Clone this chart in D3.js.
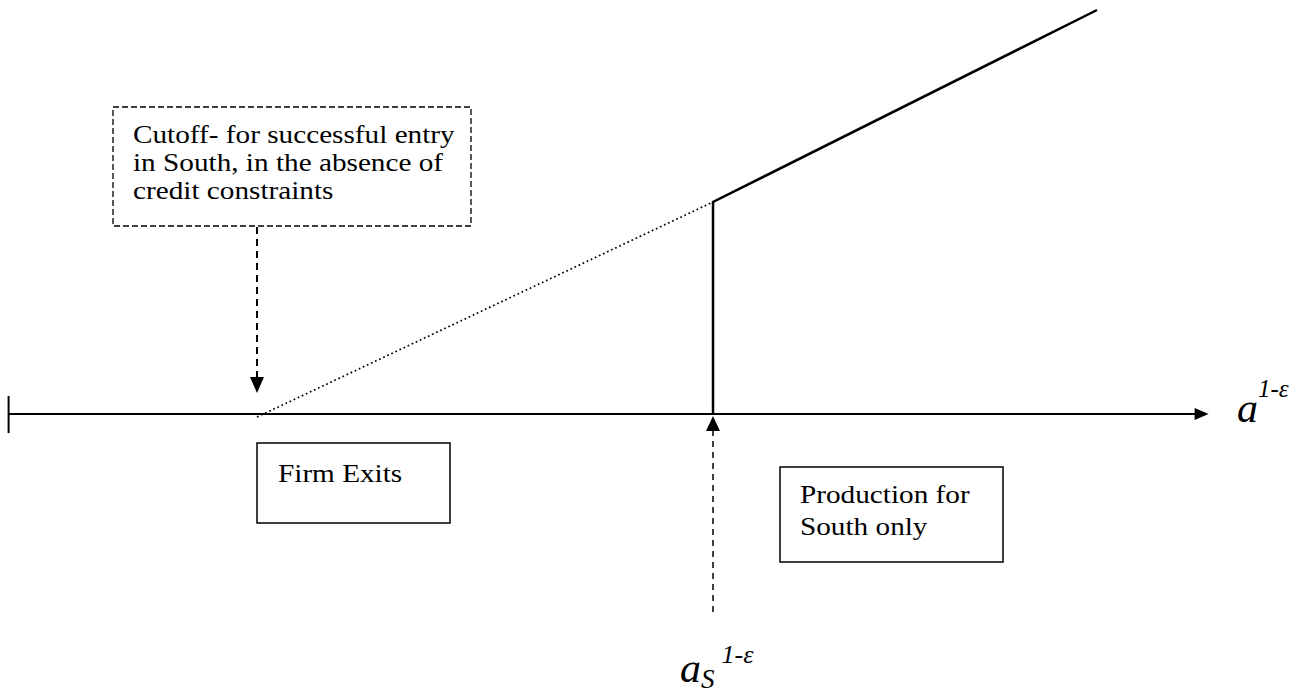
<!DOCTYPE html>
<html>
<head>
  <meta charset="utf-8">
  <title>cutoff</title>
  <style>
    body{margin:0;background:#fff;}
    .lbl{font-family:"Liberation Serif","Times New Roman",serif;font-size:25px;fill:#000;}
    .math{font-family:"Liberation Serif","Times New Roman",serif;font-style:italic;fill:#000;}
  </style>
  <script src="https://d3js.org/d3.v7.min.js"></script>
</head>
<body>
  <script>
    // schematic values, in a^(1-e) units (x) and profit units (y)
    var axisRange = [-0.7, 99.3];
    var cutoffX = 20;          // entry cutoff without credit constraints
    var asX = 58;              // a_S^(1-e)
    var lineX = [20, 58, 58, 90];
    var lineY = [0, 53, 0, 101];
    var boxTexts = [
      ["Cutoff- for successful entry", "in South, in the absence of", "credit constraints"],
      ["Firm Exits"],
      ["Production for", "South only"]
    ];

    var width = 1309, height = 694;
    var stretch = 1.17;   // picture is wider than tall
    var svg = d3.select('body').append('svg')
      .attr('width', width).attr('height', height);

    var x = d3.scaleLinear().domain([0, 100]).range([17, 1217]);
    var y = d3.scaleLinear().domain([0, 100]).range([414, 14]);

    function label(tx, ty, t){
      svg.append('text').attr('class', 'lbl')
        .attr('transform', 'translate(' + tx + ',' + ty + ') scale(' + stretch + ',1)')
        .text(t);
    }

    // axis
    svg.append('line')
      .attr('x1', x(axisRange[0])).attr('x2', x(axisRange[1]) - 8)
      .attr('y1', y(0)).attr('y2', y(0))
      .attr('stroke', '#000').attr('stroke-width', 2);
    svg.append('line')
      .attr('x1', x(axisRange[0])).attr('x2', x(axisRange[0]))
      .attr('y1', y(0) - 18).attr('y2', y(0) + 19)
      .attr('stroke', '#000').attr('stroke-width', 2);
    var ax = x(axisRange[1]);
    svg.append('path')
      .attr('d', 'M' + ax + ',' + y(0) + 'L' + (ax - 14) + ',' + (y(0) - 6) + 'L' + (ax - 14) + ',' + (y(0) + 6) + 'Z')
      .attr('fill', '#000');

    // dotted part (no credit constraints)
    svg.append('line')
      .attr('x1', x(lineX[0])).attr('y1', y(lineY[0]) + 3)
      .attr('x2', x(lineX[1])).attr('y2', y(lineY[1]))
      .attr('stroke', '#000').attr('stroke-width', 1.7)
      .attr('stroke-dasharray', '1.7,2.8');

    // solid profit line
    var line = d3.line().x(d => x(d[0])).y(d => y(d[1]));
    svg.append('path')
      .attr('d', line([[lineX[2], lineY[2]], [lineX[1], lineY[1]], [lineX[3], lineY[3]]]))
      .attr('fill', 'none').attr('stroke', '#000').attr('stroke-width', 2.5);

    // dashed box
    svg.append('rect')
      .attr('x', 113).attr('y', 107).attr('width', 358).attr('height', 119)
      .attr('fill', 'none').attr('stroke', '#000').attr('stroke-width', 1.3)
      .attr('stroke-dasharray', '6,3');
    boxTexts[0].forEach(function(t, i){ label(133, 143 + i * 28, t); });

    // dashed arrow down to cutoff
    var cx = x(cutoffX);
    svg.append('line')
      .attr('x1', cx).attr('x2', cx).attr('y1', 227).attr('y2', 378)
      .attr('stroke', '#000').attr('stroke-width', 2).attr('stroke-dasharray', '7,5');
    svg.append('path')
      .attr('d', 'M' + cx + ',' + (y(0) - 21) + 'L' + (cx - 7) + ',' + (y(0) - 37) + 'L' + (cx + 7) + ',' + (y(0) - 37) + 'Z')
      .attr('fill', '#000');

    // dashed arrow up to a_S
    var sx = x(asX);
    svg.append('line')
      .attr('x1', sx).attr('x2', sx).attr('y1', 430).attr('y2', 613)
      .attr('stroke', '#000').attr('stroke-width', 1.5).attr('stroke-dasharray', '6,5');
    svg.append('path')
      .attr('d', 'M' + sx + ',' + (y(0) + 2) + 'L' + (sx - 7) + ',' + (y(0) + 17) + 'L' + (sx + 7) + ',' + (y(0) + 17) + 'Z')
      .attr('fill', '#000');

    // solid boxes
    svg.append('rect')
      .attr('x', 257).attr('y', 443).attr('width', 193).attr('height', 80)
      .attr('fill', 'none').attr('stroke', '#000').attr('stroke-width', 1.5);
    label(278, 482, boxTexts[1][0]);

    svg.append('rect')
      .attr('x', 780).attr('y', 467).attr('width', 223).attr('height', 95)
      .attr('fill', 'none').attr('stroke', '#000').attr('stroke-width', 1.5);
    boxTexts[2].forEach(function(t, i){ label(800, 503 + i * 32, t); });

    // axis label a^(1-e)
    var al = svg.append('text').attr('class', 'math').attr('x', 1237).attr('y', 422);
    al.append('tspan').attr('font-size', 42).text('a');
    al.append('tspan').attr('font-size', 25).attr('dy', -25).text('1-ε');

    // a_S^(1-e)
    var sl = svg.append('text').attr('class', 'math').attr('x', 680).attr('y', 682);
    sl.append('tspan').attr('font-size', 42).text('a');
    sl.append('tspan').attr('font-size', 27).attr('dy', 6).text('S');
    sl.append('tspan').attr('font-size', 26).attr('dx', 7).attr('dy', -25).text('1-ε');
  </script>
</body>
</html>
